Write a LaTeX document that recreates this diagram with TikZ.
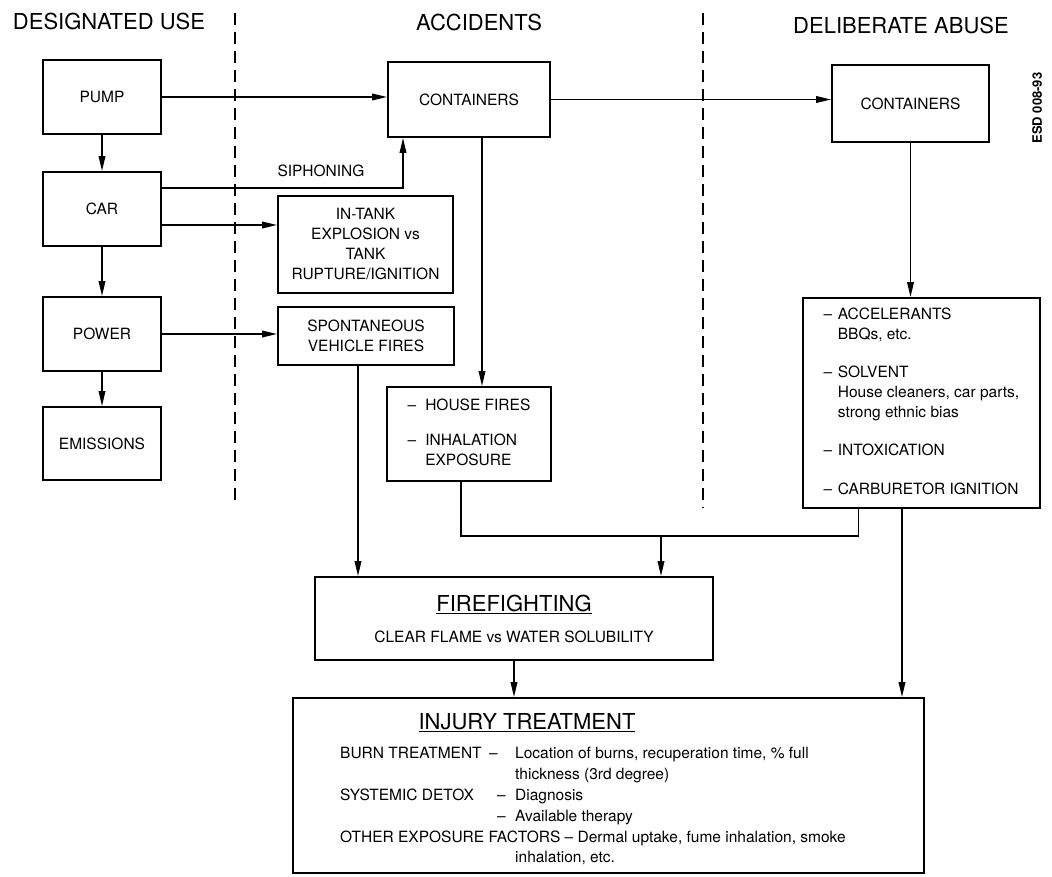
\documentclass[tikz,border=0pt]{standalone}
\usepackage{fontspec}
\setmainfont{TeX Gyre Heros}
\usetikzlibrary{positioning,arrows.meta}

\begin{document}
\begin{tikzpicture}[x=1pt, y=-1pt, >={Triangle[length=15pt,width=6.5pt]}, on grid,
  font=\fontsize{15.5}{20}\selectfont,
  block/.style={draw, line width=1.6pt, inner sep=2pt, align=center, minimum width=118pt, minimum height=74pt},
  lane/.style={align=center, font=\fontsize{22}{26}\selectfont},
  flow/.style={->, line width=1.8pt},
  divider/.style={line width=2.2pt, dash pattern=on 12pt off 7pt}]
	\useasboundingbox (0,0) rectangle (1052,877);
	% column headings
	\node[lane] (hdes) at (109,21) {DESIGNATED USE};
	\node[lane] (hacc) at (479,22) {ACCIDENTS};
	\node[lane] (habu) at (901,25) {DELIBERATE ABUSE};
	\node[rotate=90, font=\bfseries\fontsize{13}{15}\selectfont] (esd) at (1037,108) {ESD 008-93};
	\draw[divider] (235,13) -- (235,505);
	\draw[divider] (703,13) -- (703,508);
	% designated use
	\node[block] (pump) at (102,97) {PUMP};
	\node[block] (car) [below = 112pt of pump] {CAR};
	\node[block] (power) [below = 125pt of car] {POWER};
	\node[block, minimum height=73pt] (emis) [below = 109.5pt of power] {EMISSIONS};
	% accidents
	\node[block, minimum width=162pt, minimum height=75pt] (acont) at (469,99.5) {CONTAINERS};
	\node[block, minimum width=175pt, minimum height=97pt] (intank) at (365.5,244.5) {IN-TANK\\EXPLOSION vs\\TANK\\RUPTURE/IGNITION};
	\node[block, minimum width=176pt, minimum height=58pt] (spont) at (366,336) {SPONTANEOUS\\VEHICLE FIRES};
	\node[block, minimum width=164pt, minimum height=94pt] (house) at (469,434) {\begin{tabular}{@{}l@{\hspace{9pt}}l@{}}–&HOUSE FIRES\\[15pt] –&INHALATION\\ &EXPOSURE\end{tabular}};
	% deliberate abuse
	\node[block, minimum width=157pt, minimum height=77pt] (dcont) at (910.5,103.5) {CONTAINERS};
	\node[block, minimum width=237pt, minimum height=210pt] (abuse) at (921.5,403) {\begin{tabular}{@{}l@{\hspace{5.5pt}}l@{}}–&ACCELERANTS\\ &BBQs, etc.\\[18pt] –&SOLVENT\\ &House cleaners, car parts,\\ &strong ethnic bias\\[18pt] –&INTOXICATION\\[19pt] –&CARBURETOR IGNITION\end{tabular}};
	% response
	\node[block, minimum width=398pt, minimum height=83pt] (fire) at (514,618.5) {{\fontsize{22}{26}\selectfont\underline{FIREFIGHTING}}\\[11pt]CLEAR FLAME vs WATER SOLUBILITY};
	\node[block, minimum width=631pt, minimum height=175pt] (injury) at (608.5,785.5) {};
	\node[lane] (injhead) at (527,723) {\underline{INJURY TREATMENT}};
	\node[anchor=north west, inner sep=0pt, align=left, font=\fontsize{15.5}{20.8}\selectfont] (injlist) at (340,747.3) {\makebox[149pt][l]{BURN TREATMENT}\makebox[26pt][l]{–}Location of burns, recuperation time, \% full\\
	\hspace*{175pt}thickness (3rd degree)\\
	\makebox[157pt][l]{SYSTEMIC DETOX}\makebox[18pt][l]{–}Diagnosis\\
	\hspace*{157pt}\makebox[18pt][l]{–}Available therapy\\
	OTHER EXPOSURE FACTORS – Dermal uptake, fume inhalation, smoke\\
	\hspace*{175pt}inhalation, etc.};
	% connectors
	\draw[flow] (pump) -- (car);
	\draw[flow] (car) -- (power);
	\draw[flow] (power) -- (emis);
	\draw[flow] (pump.east) -- (pump.east -| acont.west);
	\draw[flow] (acont.east) -- (acont.east -| dcont.west);
	\draw[flow] ([yshift=21pt]car.east) -| ([xshift=-66pt]acont.south) node[pos=0.33, above=10pt, inner sep=0pt] (siph) {SIPHONING};
	\draw[flow] ([yshift=-16pt]car.east) -- ([yshift=-16pt]car.east -| intank.west);
	\draw[flow] (power.east) -- (power.east -| spont.west);
	\draw[flow] ([xshift=13pt]acont.south) -- ([xshift=13pt]acont.south |- house.north);
	\draw[flow] ([xshift=-8pt]spont.south) -- ([xshift=-8pt]spont.south |- fire.north);
	\coordinate (join) at (661,536);
	\draw[line width=1.8pt] ([xshift=-8pt]house.south) |- (join) -| ([xshift=-63pt]abuse.south);
	\draw[flow] (join) -- (join |- fire.north);
	\draw[flow] (dcont.south) -- (dcont.south |- abuse.north);
	\draw[flow] ([xshift=-19.5pt]abuse.south) -- ([xshift=-19.5pt]abuse.south |- injury.north);
	\draw[flow] (fire.south) -- (fire.south |- injury.north);
\end{tikzpicture}
\end{document}
